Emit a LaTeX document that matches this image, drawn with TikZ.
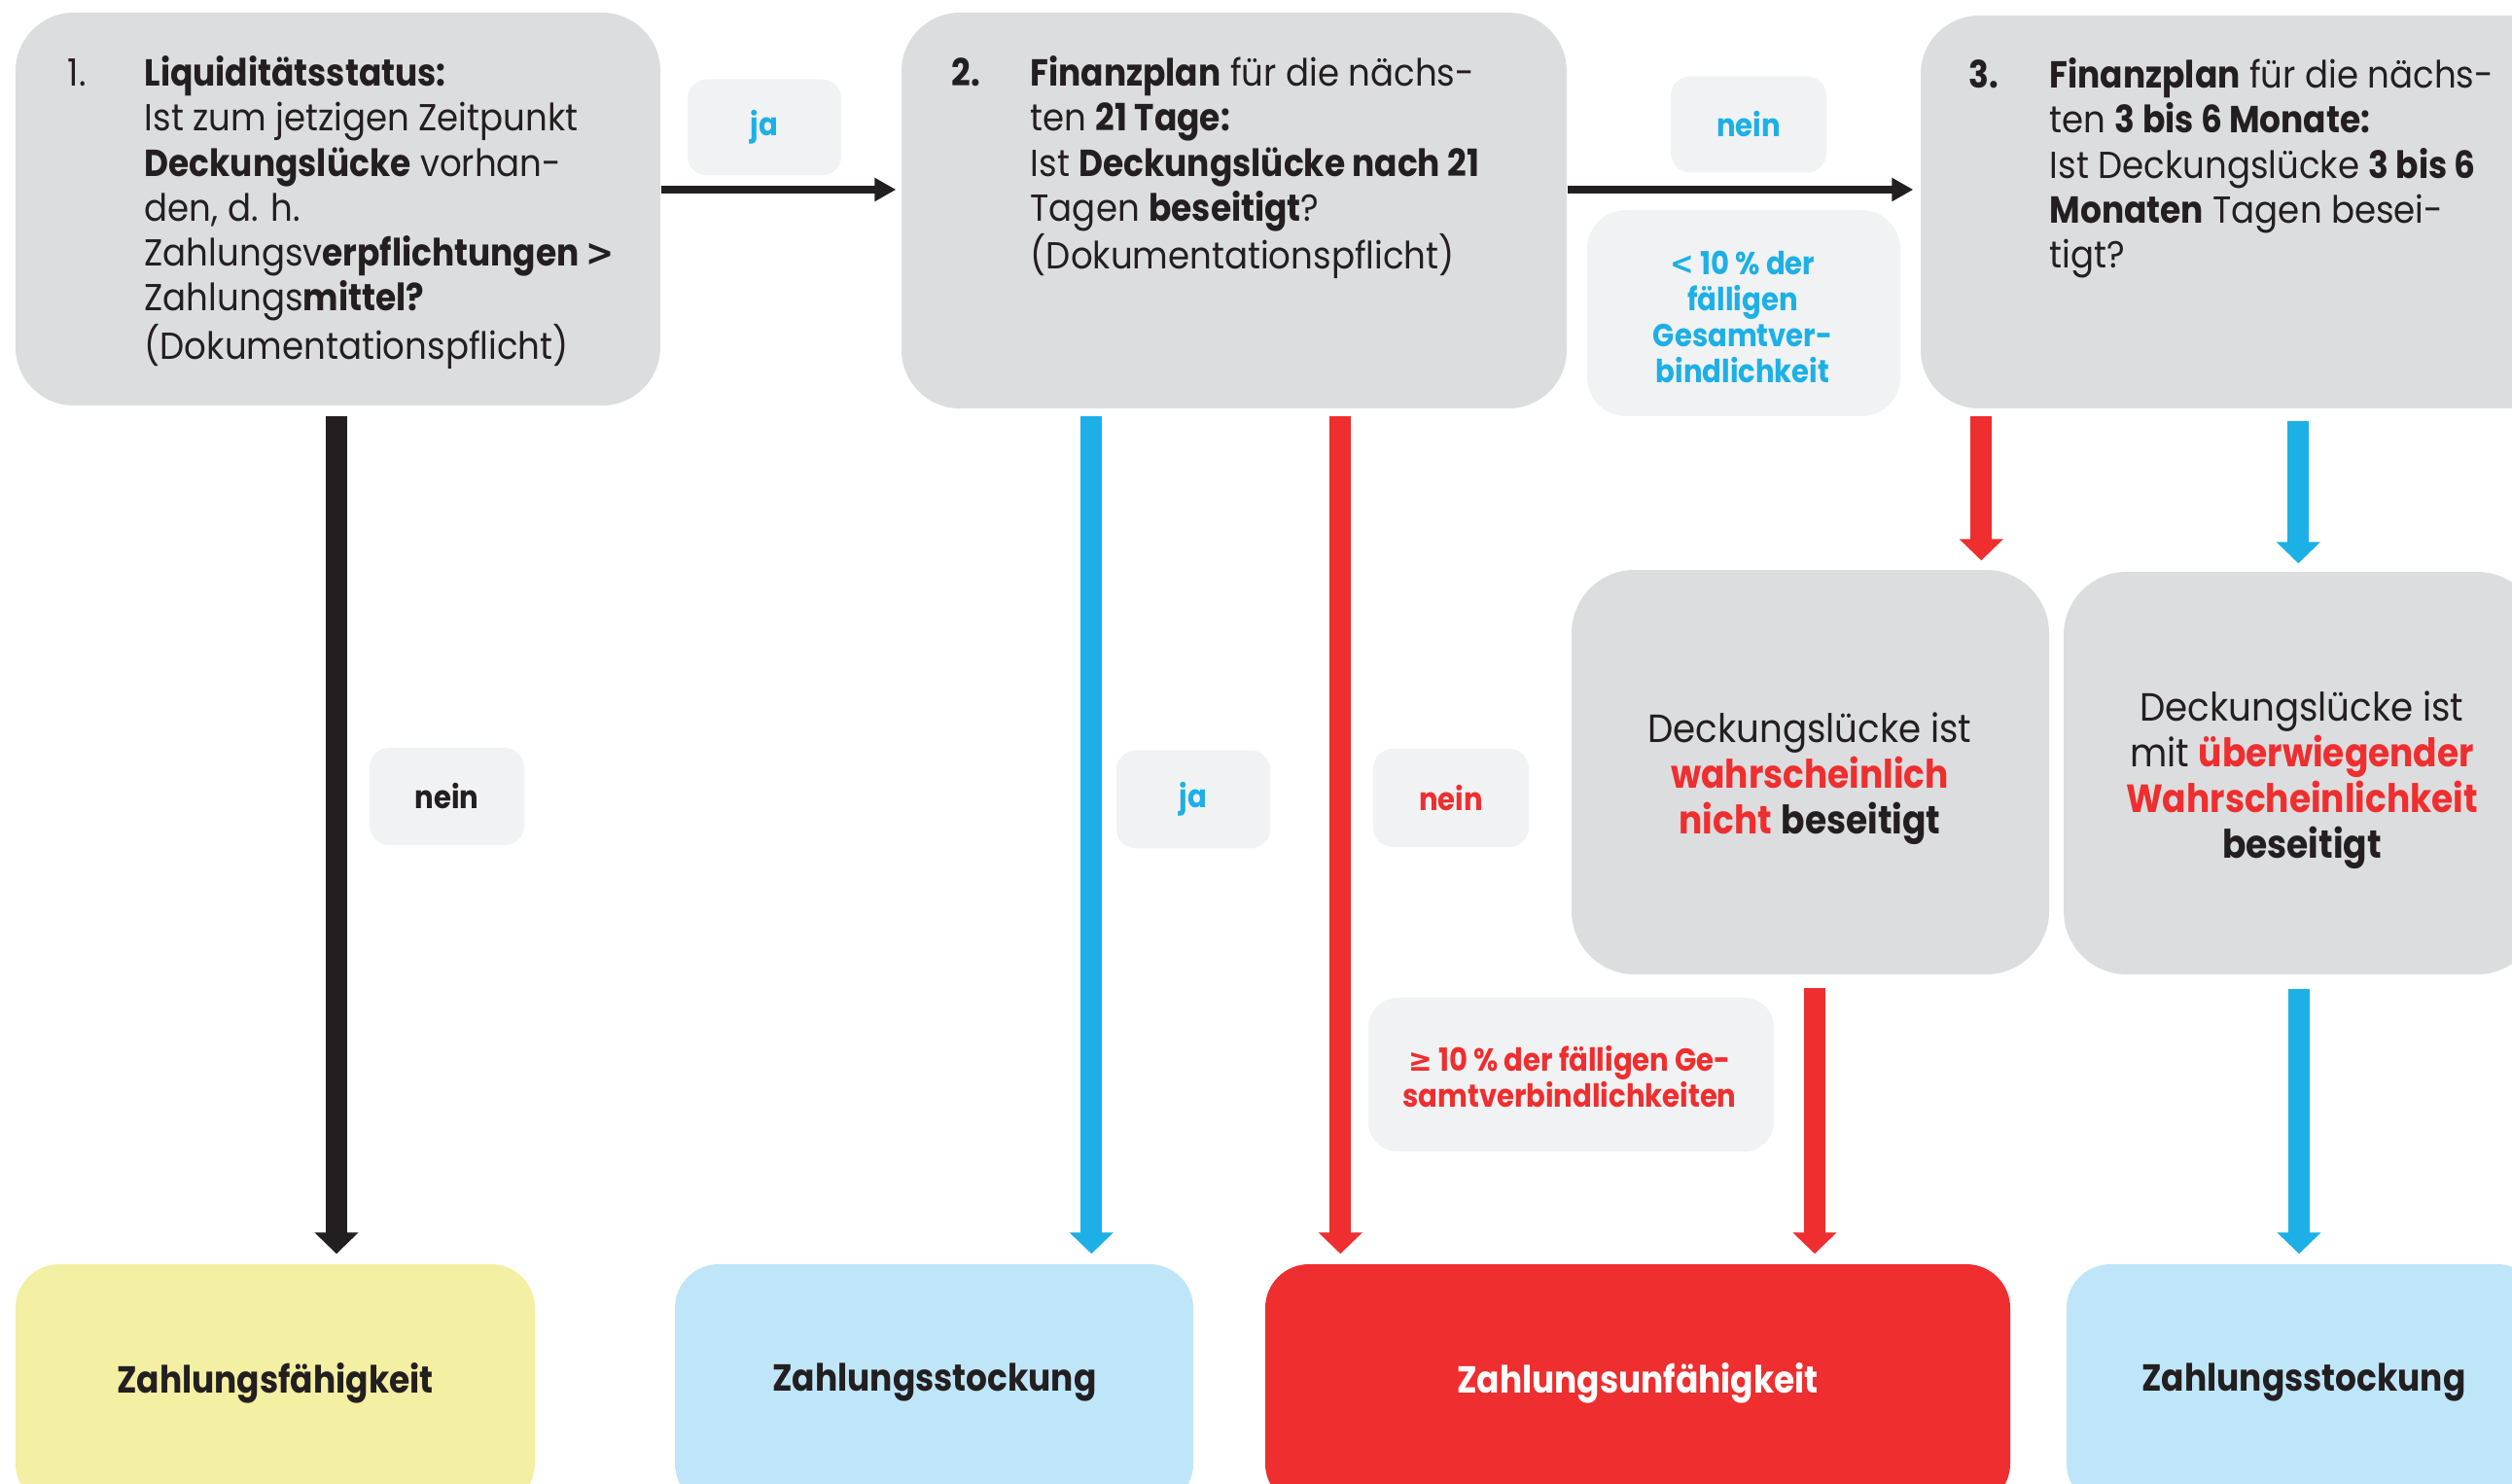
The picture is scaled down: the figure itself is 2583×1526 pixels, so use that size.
\documentclass[tikz,border=0pt]{standalone}
\usepackage{fontspec}
\setmainfont{Poppins}[FakeStretch=0.92, BoldFeatures={FakeStretch=0.89}]
\newfontfamily\symf{DejaVu Sans}[FakeStretch=0.9]
\usetikzlibrary{arrows.meta,calc}
\definecolor{boxgray}{HTML}{DCDDDE}
\definecolor{lblgray}{HTML}{F1F2F3}
\definecolor{cyellow}{HTML}{F3EFA3}
\definecolor{clblue}{HTML}{BFE6F8}
\definecolor{cred}{HTML}{EE2E2F}
\definecolor{cblue}{HTML}{1CB0E6}
\definecolor{cblack}{HTML}{231F20}
\newcommand\bodysize{\fontsize{11pt}{13.1pt}\selectfont}
\newcommand\midsize{\fontsize{11.5pt}{13.4pt}\selectfont}
\newcommand\lblsize{\fontsize{9.3pt}{10.6pt}\selectfont}
\newcommand\finsize{\fontsize{11pt}{13pt}\selectfont}
\begin{document}
\begin{tikzpicture}[x=0.1mm,y=-0.1mm,
  bigbox/.style={fill=boxgray, rounded corners=6mm, inner sep=0pt, draw=none},
  lblbox/.style={fill=lblgray, rounded corners=2mm, inner sep=0pt, font=\lblsize\bfseries, align=center},
  lbltext/.style={inner sep=0pt, font=\lblsize\bfseries, align=center},
  condbox/.style={fill=boxgray, rounded corners=6.5mm, inner sep=0pt},
  condtext/.style={inner sep=0pt, font=\midsize, align=center, text=cblack},
  finbox/.style={rounded corners=4.5mm, inner sep=0pt},
  fintext/.style={inner sep=0pt, font=\finsize\bfseries, text=cblack},
  boxtext/.style={anchor=north west, inner sep=0pt, font=\bodysize, text=cblack},
  varrow/.style={line width=2.2mm, -{Triangle[width=4.4mm,length=2.2mm]}},
  harrow/.style={line width=0.8mm, -{Triangle[width=2.3mm,length=2.2mm]}}
]
\useasboundingbox (0,0) rectangle (2583,1526);

% top boxes
\node[bigbox, minimum width=66.3mm, minimum height=40.4mm] (b1) at (347.5,215) {};
\node[bigbox, minimum width=68.4mm, minimum height=40.7mm] (b2) at (1269,216.5) {};
\node[bigbox, minimum width=68mm, minimum height=40.4mm] (b3) at (2315,218) {};

\node[boxtext] (t1) at (69,56) {\begin{tabular}{@{}p{7.9mm}@{}l@{}}
1. & \textbf{Liquiditätsstatus:}\\
 & Ist zum jetzigen Zeitpunkt\\
 & \textbf{Deckungslücke} vorhan-\\
 & den, d. h.\\
 & Zahlungsv\textbf{erpflichtungen {\symf >}}\\
 & Zahlungs\textbf{mittel?}\\
 & (Dokumentationspflicht)
\end{tabular}};

\node[boxtext] (t2) at (978,56) {\begin{tabular}{@{}p{8.1mm}@{}l@{}}
\textbf{2.} & \textbf{Finanzplan} für die nächs-\\
 & ten \textbf{21 Tage:}\\
 & Ist \textbf{Deckungslücke nach 21}\\
 & Tagen \textbf{beseitigt}?\\
 & (Dokumentationspflicht)
\end{tabular}};

\node[boxtext] (t3) at (2024,58) {\begin{tabular}{@{}p{8.3mm}@{}l@{}}
\textbf{3.} & \textbf{Finanzplan} für die nächs-\\
 & ten \textbf{3 bis 6 Monate:}\\
 & Ist Deckungslücke \textbf{3 bis 6}\\
 & \textbf{Monaten} Tagen besei-\\
 & tigt?
\end{tabular}};

% labels
\node[lblbox, minimum width=15.8mm, minimum height=9.9mm, text=cblue] (lja1) at (786,131) {ja};
\node[lblbox, minimum width=16mm, minimum height=9.9mm, text=cblue] (lnein1) at (1798,128) {nein};
\node[lblbox, rounded corners=4mm, minimum width=32.2mm, minimum height=21.2mm] (llt) at (1793,322) {};
\node[lbltext, text=cblue] (lltt) at (1792,326) {{\symf\bfseries <} 10 \% der\\fälligen\\Gesamtver-\\bindlichkeit};
\node[lblbox, minimum width=15.9mm, minimum height=10mm, text=cblack] (lneinK) at (459.5,819) {nein};
\node[lblbox, minimum width=15.8mm, minimum height=10.1mm, text=cblue] (ljaB) at (1227,822) {ja};
\node[lblbox, minimum width=16mm, minimum height=10.1mm, text=cred] (lneinR) at (1492,820.5) {nein};
\node[lblbox, rounded corners=3mm, minimum width=41.7mm, minimum height=15.8mm] (lge) at (1615.5,1105) {};
\node[lbltext, text=cred] (lget) at (1614,1107) {{\symf\bfseries ≥} 10 \% der fälligen Ge-\\samtverbindlichkeiten};

% condition boxes
\node[condbox, minimum width=49.1mm, minimum height=41.6mm] (wahr) at (1861.5,794) {};
\node[condtext] (wahrt) at (1861,801) {Deckungslücke ist\\\textbf{\color{cred}wahrscheinlich}\\\textbf{\color{cred}nicht} \textbf{beseitigt}};
\node[condbox, minimum width=49mm, minimum height=41.4mm] (ueber) at (2367,795) {};
\node[condtext] (uebert) at (2367,802) {Deckungslücke ist\\mit \textbf{\color{cred}überwiegender}\\\textbf{\color{cred}Wahrscheinlichkeit}\\\textbf{beseitigt}};

% end boxes
\node[finbox, fill=cyellow, minimum width=53.4mm, minimum height=25mm] (zf) at (283,1425) {};
\node[finbox, fill=clblue, minimum width=53.3mm, minimum height=25mm] (zs1) at (960.5,1425) {};
\node[finbox, fill=cred, minimum width=76.6mm, minimum height=25mm] (zu) at (1684,1425) {};
\node[finbox, fill=clblue, minimum width=48.8mm, minimum height=25mm] (zs2) at (2369,1425) {};
\node[fintext] (zft) at (283,1422) {Zahlungsfähigkeit};
\node[fintext] (zs1t) at (961,1422) {Zahlungsstockung};
\node[fintext, text=white] (zut) at (1684,1422) {Zahlungsunfähigkeit};
\node[fintext] (zs2t) at (2369,1422) {Zahlungsstockung};

% horizontal arrows
\draw[harrow, cblack] ($(b1.east)+(0,-20)$) coordinate (h1s) -- ($(h1s -| b2.west)+(-5,0)$);
\draw[harrow, cblack] ($(b2.east)+(0,-21.5)$) coordinate (h2s) -- ($(h2s -| b3.west)+(-7,0)$);

% vertical arrows
\draw[varrow, cblack] ($(b1.south)+(-1.5,10)$) coordinate (v1s) -- ($(v1s |- zf.north)+(0,-10)$);
\draw[varrow, cblue] ($(b2.south west)+(196,7)$) coordinate (v2s) -- ($(v2s |- zs1.north)+(0,-10)$);
\draw[varrow, cred] ($(b2.south west)+(452,7)$) coordinate (v3s) -- ($(v3s |- zu.north)+(0,-10)$);
\draw[varrow, cred] ($(b3.south west)+(63,7)$) coordinate (v4s) -- ($(v4s |- wahr.north)+(0,-9)$);
\draw[varrow, cblue] ($(b3.south west)+(389,12)$) coordinate (v5s) -- ($(v5s |- ueber.north)+(0,-8)$);
\draw[varrow, cred] ($(wahr.south)+(4.5,13)$) coordinate (v6s) -- ($(v6s |- zu.north)+(0,-10)$);
\draw[varrow, cblue] ($(ueber.south)+(-3,14)$) coordinate (v7s) -- ($(v7s |- zs2.north)+(0,-10)$);
\end{tikzpicture}
\end{document}
